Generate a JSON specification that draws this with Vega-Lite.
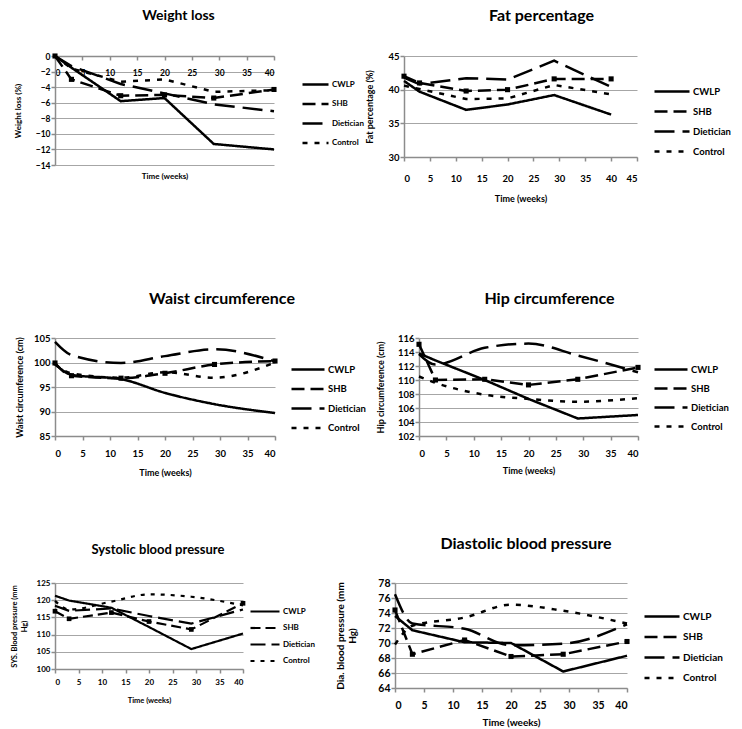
{
  "$schema": "https://vega.github.io/schema/vega-lite/v6.json",
  "background": "white",
  "padding": {"left": 10, "top": 8, "right": 0, "bottom": 0},
  "config": {
    "view": {"stroke": null},
    "font": "Lato",
    "axis": {"labelFont": "Lato", "labelFontWeight": "bold", "labelColor": "black", "titleFont": "Lato", "titleFontWeight": "bold", "titleColor": "black", "domainColor": "#8c8c8c", "domainWidth": 1.5, "tickColor": "#8c8c8c", "tickWidth": 1.5, "tickSize": 4, "gridColor": "#a6a6a6", "gridWidth": 1},
    "axisX": {"grid": false, "labelPadding": 8, "labelAngle": 0},
    "axisY": {"grid": true, "labelPadding": 1},
    "legend": {"labelFont": "Lato", "labelFontWeight": "bold", "labelColor": "black", "symbolStrokeColor": "black", "symbolStrokeWidth": 2.5, "symbolSize": 64, "title": null, "orient": "none"},
    "title": {"font": "Lato", "fontWeight": "bold", "color": "black", "anchor": "middle", "frame": "group"}
  },
  "datasets": {
    "weight": [
      {"week": 0, "CWLP": 0, "SHB": 0, "Dietician": 0, "Control": 0},
      {"week": 3, "CWLP": -1.5, "SHB": -3.0, "Dietician": -1.3, "Control": -1.6},
      {"week": 12, "CWLP": -5.8, "SHB": -5.1, "Dietician": -3.6, "Control": -3.3},
      {"week": 20, "CWLP": -5.4, "SHB": -5.0, "Dietician": -4.8, "Control": -3.0},
      {"week": 29, "CWLP": -11.3, "SHB": -5.4, "Dietician": -6.2, "Control": -4.6},
      {"week": 40, "CWLP": -12.0, "SHB": -4.3, "Dietician": -7.1, "Control": -4.4}
    ],
    "fat": [
      {"week": 0, "CWLP": 41.3, "SHB": 42.0, "Dietician": 41.8, "Control": 40.6},
      {"week": 3, "CWLP": 39.7, "SHB": 41.0, "Dietician": 40.8, "Control": 40.1},
      {"week": 12, "CWLP": 37.0, "SHB": 39.8, "Dietician": 41.7, "Control": 38.6},
      {"week": 20, "CWLP": 37.8, "SHB": 40.0, "Dietician": 41.5, "Control": 38.7},
      {"week": 29, "CWLP": 39.2, "SHB": 41.6, "Dietician": 44.3, "Control": 40.7},
      {"week": 40, "CWLP": 36.3, "SHB": 41.6, "Dietician": 40.4, "Control": 39.3}
    ],
    "waist": [
      {"week": 0, "CWLP": 99.7, "SHB": 99.9, "Dietician": 104.2, "Control": 99.6},
      {"week": 3, "CWLP": 97.5, "SHB": 97.3, "Dietician": 101.5, "Control": 97.8},
      {"week": 12, "CWLP": 96.6, "SHB": 96.8, "Dietician": 99.9, "Control": 96.9},
      {"week": 20, "CWLP": 93.8, "SHB": 97.8, "Dietician": 101.3, "Control": 98.0},
      {"week": 29, "CWLP": 91.5, "SHB": 99.6, "Dietician": 102.7, "Control": 96.9},
      {"week": 40, "CWLP": 89.7, "SHB": 100.3, "Dietician": 100.2, "Control": 100.0}
    ],
    "hip": [
      {"week": 0, "CWLP": 113.8, "SHB": 115.1, "Dietician": 113.7, "Control": 110.5},
      {"week": 3, "CWLP": 112.8, "SHB": 110.0, "Dietician": 112.2, "Control": 109.6},
      {"week": 12, "CWLP": 110.0, "SHB": 110.1, "Dietician": 114.6, "Control": 107.9},
      {"week": 20, "CWLP": 107.3, "SHB": 109.3, "Dietician": 115.2, "Control": 107.3},
      {"week": 29, "CWLP": 104.5, "SHB": 110.1, "Dietician": 113.5, "Control": 106.9},
      {"week": 40, "CWLP": 105.0, "SHB": 111.8, "Dietician": 111.1, "Control": 107.4}
    ],
    "systolic": [
      {"week": 0, "CWLP": 121.3, "SHB": 116.8, "Dietician": 118.4, "Control": 119.8},
      {"week": 3, "CWLP": 119.9, "SHB": 114.6, "Dietician": 116.9, "Control": 117.3},
      {"week": 12, "CWLP": 117.8, "SHB": 116.4, "Dietician": 117.6, "Control": 119.6},
      {"week": 20, "CWLP": 112.2, "SHB": 113.8, "Dietician": 115.4, "Control": 121.7},
      {"week": 29, "CWLP": 105.8, "SHB": 111.5, "Dietician": 113.2, "Control": 121.0},
      {"week": 40, "CWLP": 110.3, "SHB": 119.1, "Dietician": 117.3, "Control": 118.5}
    ],
    "diastolic": [
      {"week": 0, "CWLP": 73.6, "SHB": 74.4, "Dietician": 76.5, "Control": 69.8},
      {"week": 3, "CWLP": 71.7, "SHB": 68.5, "Dietician": 72.6, "Control": 72.3},
      {"week": 12, "CWLP": 70.1, "SHB": 70.4, "Dietician": 71.9, "Control": 73.4},
      {"week": 20, "CWLP": 70.0, "SHB": 68.2, "Dietician": 69.7, "Control": 75.1},
      {"week": 29, "CWLP": 66.2, "SHB": 68.5, "Dietician": 69.9, "Control": 74.3},
      {"week": 40, "CWLP": 68.3, "SHB": 70.2, "Dietician": 72.5, "Control": 72.6}
    ]
  },
  "spacing": 87,
  "resolve": {"scale": {"x": "independent", "y": "independent", "strokeDash": "independent"}, "legend": {"strokeDash": "independent"}},
  "vconcat": [
    {
      "hconcat": [
        {
          "width": 219, "height": 109,
          "title": {"text": "Weight loss", "fontSize": 14, "offset": 28, "dx": 14},
          "data": {"name": "weight"},
          "transform": [{"fold": ["CWLP", "SHB", "Dietician", "Control"], "as": ["group", "value"]}],
          "encoding": {
            "x": {"field": "week", "type": "quantitative", "scale": {"domain": [0, 40], "nice": false}, "axis": {"title": "Time (weeks)", "values": [0, 5, 10, 15, 20, 25, 30, 35, 40], "offset": -109, "titleY": 116, "labelFontSize": 8.5, "titleFontSize": 8}},
            "y": {"field": "value", "type": "quantitative", "scale": {"domain": [-14, 0], "nice": false}, "axis": {"title": "Weight loss (%)", "values": [-14, -12, -10, -8, -6, -4, -2, 0], "labelFontSize": 8.5, "titleFontSize": 8, "titlePadding": 13}}
          },
          "layer": [
            {
              "mark": {"type": "line", "color": "black", "strokeWidth": 2.5},
              "encoding": {
                "strokeDash": {"field": "group", "type": "nominal", "scale": {"domain": ["CWLP", "SHB", "Dietician", "Control"], "range": [[1, 0], [13, 6], [20, 8], [5, 7]]}, "legend": {"legendX": 246, "legendY": 23, "symbolType": "M-1,0H5.5", "labelOffset": 20, "labelFontSize": 8, "rowPadding": 8.5}}
              }
            },
            {
              "transform": [{"filter": "datum.group === 'SHB'"}],
              "mark": {"type": "point", "shape": "square", "filled": true, "color": "black", "size": 26, "opacity": 1},
              "encoding": {}
            }
          ]
        },
        {
          "width": 233, "height": 101,
          "title": {"text": "Fat percentage", "fontSize": 16, "offset": 27, "dx": 21},
          "data": {"name": "fat"},
          "transform": [{"fold": ["CWLP", "SHB", "Dietician", "Control"], "as": ["group", "value"]}],
          "encoding": {
            "x": {"field": "week", "type": "quantitative", "scale": {"domain": [0, 45], "nice": false}, "axis": {"title": "Time (weeks)", "values": [0, 5, 10, 15, 20, 25, 30, 35, 40, 45], "labelFontSize": 9.5, "titleFontSize": 9, "labelPadding": 12, "titlePadding": 12}},
            "y": {"field": "value", "type": "quantitative", "scale": {"domain": [30, 45], "nice": false}, "axis": {"title": "Fat percentage (%)", "values": [30, 35, 40, 45], "labelFontSize": 9.5, "titleFontSize": 9, "titlePadding": 13}}
          },
          "layer": [
            {
              "mark": {"type": "line", "color": "black", "strokeWidth": 2.5},
              "encoding": {
                "strokeDash": {"field": "group", "type": "nominal", "scale": {"domain": ["CWLP", "SHB", "Dietician", "Control"], "range": [[1, 0], [13, 6], [20, 8], [5, 7]]}, "legend": {"legendX": 249, "legendY": 30, "symbolType": "M-1,0H7.75", "labelOffset": 29, "labelFontSize": 9.5, "rowPadding": 9}}
              }
            },
            {
              "transform": [{"filter": "datum.group === 'SHB'"}],
              "mark": {"type": "point", "shape": "square", "filled": true, "color": "black", "size": 26, "opacity": 1},
              "encoding": {}
            }
          ]
        }
      ],
      "spacing": 130,
      "bounds": "flush",
      "resolve": {"scale": {"x": "independent", "y": "independent", "strokeDash": "independent"}, "legend": {"strokeDash": "independent"}}
    },
    {
      "spacing": 58,
      "resolve": {"scale": {"x": "independent", "y": "independent", "strokeDash": "independent"}, "legend": {"strokeDash": "independent"}},
      "vconcat": [
        {
          "hconcat": [
            {
              "width": 220, "height": 98,
              "title": {"text": "Waist circumference", "fontSize": 16, "offset": 26, "dx": 57},
              "data": {"name": "waist"},
              "transform": [{"fold": ["CWLP", "SHB", "Dietician", "Control"], "as": ["group", "value"]}],
              "encoding": {
                "x": {"field": "week", "type": "quantitative", "scale": {"domain": [0, 40], "nice": false}, "axis": {"title": "Time (weeks)", "values": [0, 5, 10, 15, 20, 25, 30, 35, 40], "labelFontSize": 9.5, "titleFontSize": 9, "titlePadding": 11}},
                "y": {"field": "value", "type": "quantitative", "scale": {"domain": [85, 105], "nice": false}, "axis": {"title": "Waist circumference (cm)", "values": [85, 90, 95, 100, 105], "labelFontSize": 9.5, "titleFontSize": 9, "titlePadding": 9}}
              },
              "layer": [
                {
                  "mark": {"type": "line", "color": "black", "strokeWidth": 2.5, "interpolate": "monotone"},
                  "encoding": {
                    "strokeDash": {"field": "group", "type": "nominal", "scale": {"domain": ["CWLP", "SHB", "Dietician", "Control"], "range": [[1, 0], [13, 6], [20, 8], [5, 7]]}, "legend": {"legendX": 235, "legendY": 26, "symbolType": "M-1,0H7.25", "labelOffset": 27, "labelFontSize": 9.5, "rowPadding": 8.5}}
                  }
                },
                {
                  "transform": [{"filter": "datum.group === 'SHB'"}],
                  "mark": {"type": "point", "shape": "square", "filled": true, "color": "black", "size": 26, "opacity": 1},
                  "encoding": {}
                }
              ]
            },
            {
              "width": 219, "height": 98,
              "title": {"text": "Hip circumference", "fontSize": 16, "offset": 26, "dx": 21},
              "data": {"name": "hip"},
              "transform": [{"fold": ["CWLP", "SHB", "Dietician", "Control"], "as": ["group", "value"]}],
              "encoding": {
                "x": {"field": "week", "type": "quantitative", "scale": {"domain": [0, 40], "nice": false}, "axis": {"title": "Time (weeks)", "values": [0, 5, 10, 15, 20, 25, 30, 35, 40], "labelFontSize": 9.5, "titleFontSize": 9, "titlePadding": 9}},
                "y": {"field": "value", "type": "quantitative", "scale": {"domain": [102, 116], "nice": false}, "axis": {"title": "Hip circumference (cm)", "values": [102, 104, 106, 108, 110, 112, 114, 116], "labelFontSize": 9.5, "titleFontSize": 9, "titlePadding": 12}}
              },
              "layer": [
                {
                  "transform": [{"filter": "datum.group === 'CWLP' || datum.group === 'SHB'"}],
                  "mark": {"type": "line", "color": "black", "strokeWidth": 2.5},
                  "encoding": {
                    "strokeDash": {"field": "group", "type": "nominal", "scale": {"domain": ["CWLP", "SHB", "Dietician", "Control"], "range": [[1, 0], [13, 6], [20, 8], [5, 7]]}, "legend": {"legendX": 234, "legendY": 26, "symbolType": "M-1,0H7.25", "labelOffset": 27, "labelFontSize": 9.5, "rowPadding": 8}}
                  }
                },
                {
                  "transform": [{"filter": "datum.group === 'Dietician' || datum.group === 'Control'"}],
                  "mark": {"type": "line", "color": "black", "strokeWidth": 2.5, "interpolate": "monotone"},
                  "encoding": {
                    "strokeDash": {"field": "group", "type": "nominal"}
                  }
                },
                {
                  "transform": [{"filter": "datum.group === 'SHB'"}],
                  "mark": {"type": "point", "shape": "square", "filled": true, "color": "black", "size": 26, "opacity": 1},
                  "encoding": {}
                }
              ]
            }
          ],
          "spacing": 144,
          "bounds": "flush",
          "resolve": {"scale": {"x": "independent", "y": "independent", "strokeDash": "independent"}, "legend": {"strokeDash": "independent"}}
        },
        {
          "hconcat": [
            {
              "width": 188, "height": 86,
              "title": {"text": "Systolic blood pressure", "fontSize": 13, "offset": 22, "dx": 9},
              "data": {"name": "systolic"},
              "transform": [{"fold": ["CWLP", "SHB", "Dietician", "Control"], "as": ["group", "value"]}],
              "encoding": {
                "x": {"field": "week", "type": "quantitative", "scale": {"domain": [0, 40], "nice": false}, "axis": {"title": "Time (weeks)", "values": [0, 5, 10, 15, 20, 25, 30, 35, 40], "labelFontSize": 8, "titleFontSize": 7.5, "labelPadding": 5, "titlePadding": 10}},
                "y": {"field": "value", "type": "quantitative", "scale": {"domain": [100, 125], "nice": false}, "axis": {"title": ["SYS.  Blood pressure (mm", "Hg)"], "values": [100, 105, 110, 115, 120, 125], "labelFontSize": 8, "titleFontSize": 7.5, "titlePadding": 8}}
              },
              "layer": [
                {
                  "transform": [{"filter": "datum.group !== 'Control'"}],
                  "mark": {"type": "line", "color": "black", "strokeWidth": 2.2},
                  "encoding": {
                    "strokeDash": {"field": "group", "type": "nominal", "scale": {"domain": ["CWLP", "SHB", "Dietician", "Control"], "range": [[1, 0], [10, 5], [15, 6], [4, 6]]}, "legend": {"legendX": 194, "legendY": 23, "symbolType": "M-1,0H6.25", "labelOffset": 23, "labelFontSize": 8, "rowPadding": 6.5, "symbolStrokeWidth": 2.2}}
                  }
                },
                {
                  "transform": [{"filter": "datum.group === 'Control'"}],
                  "mark": {"type": "line", "color": "black", "strokeWidth": 2.2, "interpolate": "monotone"},
                  "encoding": {
                    "strokeDash": {"field": "group", "type": "nominal"}
                  }
                },
                {
                  "transform": [{"filter": "datum.group === 'SHB'"}],
                  "mark": {"type": "point", "shape": "square", "filled": true, "color": "black", "size": 22, "opacity": 1},
                  "encoding": {}
                }
              ]
            },
            {
              "width": 232, "height": 105,
              "title": {"text": "Diastolic blood pressure", "fontSize": 16, "offset": 26, "dx": 15},
              "data": {"name": "diastolic"},
              "transform": [{"fold": ["CWLP", "SHB", "Dietician", "Control"], "as": ["group", "value"]}],
              "encoding": {
                "x": {"field": "week", "type": "quantitative", "scale": {"domain": [0, 40], "nice": false}, "axis": {"title": "Time (weeks)", "values": [0, 5, 10, 15, 20, 25, 30, 35, 40], "labelFontSize": 10.5, "titleFontSize": 10, "labelPadding": 8, "titlePadding": 7}},
                "y": {"field": "value", "type": "quantitative", "scale": {"domain": [64, 78], "nice": false}, "axis": {"title": ["Dia. blood pressure (mm", "Hg)"], "values": [64, 66, 68, 70, 72, 74, 76, 78], "labelFontSize": 10.5, "titleFontSize": 10, "titlePadding": 20}}
              },
              "layer": [
                {
                  "transform": [{"filter": "datum.group === 'CWLP' || datum.group === 'SHB'"}],
                  "mark": {"type": "line", "color": "black", "strokeWidth": 2.5},
                  "encoding": {
                    "strokeDash": {"field": "group", "type": "nominal", "scale": {"domain": ["CWLP", "SHB", "Dietician", "Control"], "range": [[1, 0], [13, 6], [20, 8], [5, 7]]}, "legend": {"legendX": 248, "legendY": 28, "symbolType": "M-1,0H7.75", "labelOffset": 29, "labelFontSize": 10, "rowPadding": 9.5}}
                  }
                },
                {
                  "transform": [{"filter": "datum.group === 'Dietician' || datum.group === 'Control'"}],
                  "mark": {"type": "line", "color": "black", "strokeWidth": 2.5, "interpolate": "monotone"},
                  "encoding": {
                    "strokeDash": {"field": "group", "type": "nominal"}
                  }
                },
                {
                  "transform": [{"filter": "datum.group === 'SHB'"}],
                  "mark": {"type": "point", "shape": "square", "filled": true, "color": "black", "size": 26, "opacity": 1},
                  "encoding": {}
                }
              ]
            }
          ],
          "spacing": 152,
          "bounds": "flush",
          "resolve": {"scale": {"x": "independent", "y": "independent", "strokeDash": "independent"}, "legend": {"strokeDash": "independent"}}
        }
      ]
    }
  ]
}
